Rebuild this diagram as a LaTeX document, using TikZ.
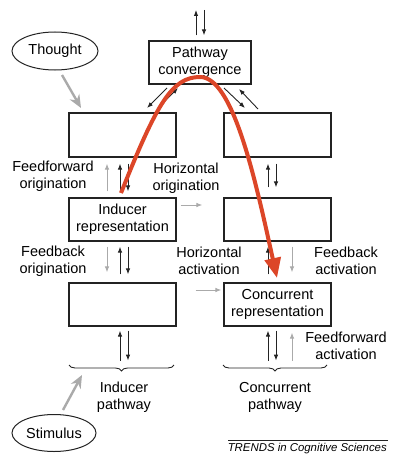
\documentclass[tikz,border=0pt]{standalone}
\usepackage{fontspec}
\setmainfont{Liberation Sans}
\usetikzlibrary{arrows.meta,decorations.pathreplacing,shapes.geometric}
\definecolor{redc}{RGB}{220,70,40}
\definecolor{grayc}{RGB}{170,170,170}
\definecolor{linec}{RGB}{35,35,35}
\newcommand\lblfont{\fontsize{14.5}{17}\selectfont}
\begin{document}
\begin{tikzpicture}[x=1pt,y=-1pt,
  box/.style={draw=linec,line width=1.2pt,minimum width=107pt,minimum height=43pt,inner sep=0pt,align=center,font=\lblfont},
  lbl/.style={align=center,font=\lblfont,inner sep=0pt},
  oval/.style={draw=linec,line width=1pt,ellipse,inner sep=0pt,font=\lblfont},
  blk/.style={draw=linec,line width=0.9pt,-{Latex[length=6pt,width=4.5pt]}},
  gry/.style={draw=grayc,line width=0.9pt,-{Latex[length=6pt,width=4.5pt]}},
  bgry/.style={draw=grayc,line width=2.4pt,-{Stealth[length=13pt,width=11pt]}},
  brc/.style={draw=linec,line width=0.9pt,decorate,decoration={brace,mirror,amplitude=6pt}},
  redarc/.style={draw=redc,line width=4pt,-{Triangle[length=20pt,width=16pt]}}
]
\useasboundingbox (0,0) rectangle (400,460);

% boxes
\node[box,minimum width=102pt] (pc) at (200,62.5) {Pathway\\convergence};
\node[box,minimum height=44pt] (lt) at (122.5,135) {};
\node[box,minimum height=44pt] (rt) at (277.5,135) {};
\node[box] (ind) at (122.5,219.5) {Inducer\\representation};
\node[box] (rm) at (277.5,219.5) {};
\node[box] (lb) at (122.5,304.5) {};
\node[box] (cr) at (277.5,304.5) {Concurrent\\representation};

% ovals
\node[oval,minimum width=86pt,minimum height=38pt] (th) at (55,51) {Thought};
\node[oval,minimum width=84pt,minimum height=37pt] (st) at (54,433) {Stimulus};

% labels
\node[lbl] (l1) at (53,176) {Feedforward\\origination};
\node[lbl] (l2) at (186,178) {Horizontal\\origination};
\node[lbl] (l3) at (53,261) {Feedback\\origination};
\node[lbl] (l4) at (209,261) {Horizontal\\activation};
\node[lbl] (l5) at (346,261) {Feedback\\activation};
\node[lbl] (l6) at (346,346) {Feedforward\\activation};
\node[lbl] (l7) at (124,397) {Inducer\\pathway};
\node[lbl] (l8) at (275,397) {Concurrent\\pathway};

% top arrows
\coordinate (topu) at (196,10);
\coordinate (topd) at (204,10);
\draw[blk] ([xshift=-4pt]pc.north) ++(0,-5) -- (topu);
\draw[blk] (topd) -- ([xshift=4pt,yshift=5pt]pc.north);

% convergence diagonal arrows
\coordinate (c1a) at (167,88); \coordinate (c1b) at (147,108);
\coordinate (c2a) at (158,108); \coordinate (c2b) at (178,88);
\coordinate (c3a) at (224,88); \coordinate (c3b) at (245,108);
\coordinate (c4a) at (258,109); \coordinate (c4b) at (239,89);
\draw[blk] (c1a) -- (c1b);
\draw[blk] (c2a) -- (c2b);
\draw[blk] (c3a) -- (c3b);
\draw[blk] (c4a) -- (c4b);

% left column: top <-> inducer
\draw[gry,shorten <=6pt,shorten >=6pt] ([xshift=-15.5pt]ind.north) -- ([xshift=-15.5pt]lt.south);
\draw[blk,shorten <=6pt,shorten >=6pt] ([xshift=-2.5pt]ind.north) -- ([xshift=-2.5pt]lt.south);
\draw[blk,shorten <=6pt,shorten >=6pt] ([xshift=5.5pt]lt.south) -- ([xshift=5.5pt]ind.north);
% right column: top <-> middle
\draw[blk,shorten <=10pt,shorten >=6pt] ([xshift=-9.5pt]rm.north) -- ([xshift=-9.5pt]rt.south);
\draw[blk,shorten <=6pt,shorten >=10pt] ([xshift=-1.5pt]rt.south) -- ([xshift=-1.5pt]rm.north);

% left column: inducer <-> bottom
\draw[gry,shorten <=5pt,shorten >=10pt] ([xshift=-15.5pt]ind.south) -- ([xshift=-15.5pt]lb.north);
\draw[blk,shorten <=8pt,shorten >=5pt] ([xshift=-2.5pt]lb.north) -- ([xshift=-2.5pt]ind.south);
\draw[blk,shorten <=5pt,shorten >=8pt] ([xshift=5.5pt]ind.south) -- ([xshift=5.5pt]lb.north);
% right column: middle <-> concurrent
\draw[blk,shorten <=8pt,shorten >=5pt] ([xshift=-9.5pt]cr.north) -- ([xshift=-9.5pt]rm.south);
\draw[gry,shorten <=5pt,shorten >=10pt] ([xshift=14.5pt]rm.south) -- ([xshift=14.5pt]cr.north);

% horizontal gray arrows
\draw[gry,shorten <=4pt,shorten >=21pt] ([yshift=14.5pt]ind.east) -- ([yshift=14.5pt]rm.west);
\draw[gry,shorten <=19pt,shorten >=2pt] ([yshift=14.5pt]lb.east) -- ([yshift=14.5pt]cr.west);

% braces
\coordinate (b1l) at (69,365); \coordinate (b1r) at (174,365);
\coordinate (b2l) at (223,365); \coordinate (b2r) at (327,365);
\draw[brc] (b1l) -- (b1r);
\draw[brc] (b2l) -- (b2r);

% bottom arrows
\draw[blk] ([xshift=-2.5pt,yshift=-34pt]lb.south) -- ([xshift=-2.5pt,yshift=-4pt]lb.south);
\draw[blk] ([xshift=5.5pt,yshift=-4pt]lb.south) -- ([xshift=5.5pt,yshift=-34pt]lb.south);
\draw[blk] ([xshift=-9.5pt,yshift=-34pt]cr.south) -- ([xshift=-9.5pt,yshift=-4pt]cr.south);
\draw[blk] ([xshift=-1.5pt,yshift=-4pt]cr.south) -- ([xshift=-1.5pt,yshift=-34pt]cr.south);
\draw[gry] ([xshift=14.5pt,yshift=-34pt]cr.south) -- ([xshift=14.5pt,yshift=-6pt]cr.south);

% thought and stimulus arrows
\coordinate (tha) at (62,75); \coordinate (thb) at (81,108);
\coordinate (sta) at (63,410); \coordinate (stb) at (82,375);
\draw[bgry] (tha) -- (thb);
\draw[bgry] (sta) -- (stb);

% footer
\coordinate (fl) at (228,440); \coordinate (fr) at (388,440);
\draw[linec,line width=0.8pt] (fl) -- (fr);
\node[anchor=north east,inner sep=0pt,font=\fontsize{11.4}{13}\selectfont\itshape] (tr) at (387,443) {TRENDS in Cognitive Sciences};

% red arc
\coordinate (ra) at (121,193);
\coordinate (rap) at (200,77);
\coordinate (rb) at (277,278);
\draw[redarc] (ra) .. controls (157,103) and (172,77) .. (rap) .. controls (233,77) and (255,178) .. (rb);
\end{tikzpicture}
\end{document}
